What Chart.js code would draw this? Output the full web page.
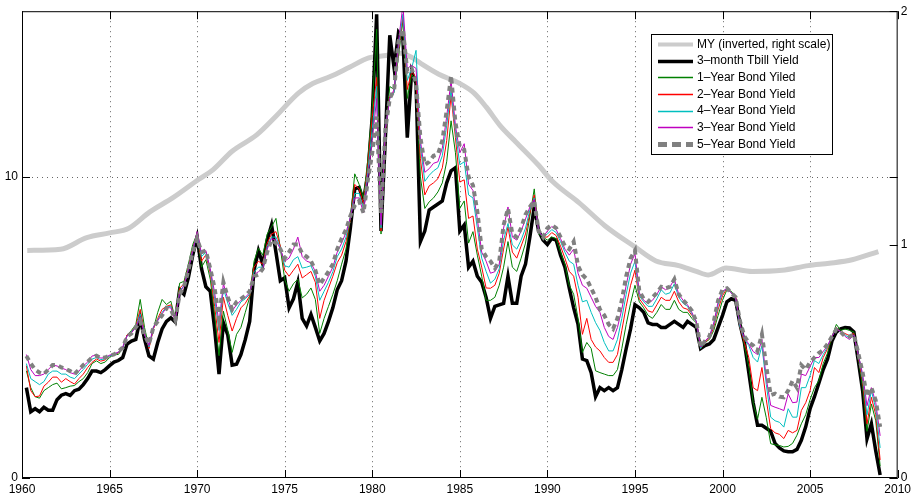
<!DOCTYPE html>
<html>
<head>
<meta charset="utf-8">
<script src="https://cdn.jsdelivr.net/npm/chart.js@4.4.1/dist/chart.umd.min.js"></script>
<style>
  html, body { margin: 0; padding: 0; background: #fff; }
  #wrap { width: 915px; height: 502px; }
</style>
</head>
<body>
<div id="wrap"><canvas id="chart" width="915" height="502"></canvas></div>
<script>
// quarterly observations, end of quarter, first one is March 1960
const firstQuarter = 1960.25;

const tbill3m = [
  3.0, 2.2, 2.3, 2.2,      2.35, 2.25, 2.25, 2.6,   2.75, 2.8, 2.74, 2.9,    2.95, 3.1, 3.3, 3.55,
  3.55, 3.5, 3.6, 3.73,    3.85, 3.9, 4.0, 4.45,    4.55, 4.6, 5.3, 4.6,     4.05, 3.95, 4.5, 4.95,
  5.2, 5.32, 5.18, 6.25,   6.1, 6.65, 7.4, 8.0,     6.95, 6.35, 6.2, 4.95,   3.45, 5.15, 4.75, 3.75,
  3.78, 4.1, 4.6, 5.2,     6.9, 7.55, 7.1, 7.9,     8.4, 7.5, 6.55, 6.65,    5.65, 5.95, 6.5, 5.3,
  5.05, 5.43, 5.0, 4.55,   4.8, 5.2, 5.65, 6.25,    6.55, 7.2, 8.3, 9.6,     9.65, 9.2, 10.1, 12.0,
  15.4, 8.2, 11.3, 14.7,   13.6, 14.8, 14.6, 11.3,  13.5, 13.1, 7.85, 8.2,   8.9, 9.0, 9.1, 9.2,
  9.8, 10.2, 10.3, 8.2,    8.4, 7.0, 7.2, 6.7,      6.5, 6.0, 5.3, 5.7,      5.75, 5.8, 6.7, 5.8,
  5.8, 6.7, 7.1, 8.0,      9.0, 8.2, 7.9, 7.75,     7.95, 7.9, 7.4, 7.0,     6.3, 5.65, 5.1, 3.95,
  3.9, 3.5, 2.7, 3.0,      2.9, 3.0, 2.9, 3.0,      3.6, 4.3, 4.95, 5.75,    5.65, 5.5, 5.15, 5.1,
  5.1, 5.0, 5.0, 5.1,      5.2, 5.1, 5.0, 5.2,      5.1, 5.0, 4.3, 4.4,      4.45, 4.6, 5.0, 5.4,
  5.85, 5.95, 5.9, 5.1,    4.5, 3.5, 2.5, 1.75,     1.75, 1.65, 1.55, 1.15,  1.0, 0.9, 0.87, 0.87,
  0.95, 1.25, 1.7, 2.3,    2.7, 3.15, 3.6, 3.95,    4.55, 4.85, 4.95, 5.0,   4.98, 4.85, 3.9, 2.9,
  1.3, 1.8, 0.9, 0.1
];

const bond1y = [
  3.56, 3.0, 2.7, 2.65,    2.9, 3.0, 3.1, 3.15,     2.96, 3.0, 3.05, 3.07,   3.2, 3.3, 3.5, 3.8,
  3.89, 3.8, 3.85, 4.0,    4.11, 4.1, 4.3, 4.75,    4.9, 5.1, 5.93, 4.99,    4.33, 4.95, 5.5, 5.93,
  5.76, 5.87, 5.27, 6.47,  6.53, 7.1, 7.75, 8.12,   7.0, 7.25, 6.6, 5.4,     4.06, 5.54, 4.9, 4.17,
  4.77, 5.0, 5.5, 6.0,     7.2, 7.63, 7.4, 8.1,     8.34, 8.62, 7.63, 6.6,   6.2, 6.45, 6.6, 5.98,
  6.1, 6.31, 5.93, 4.8,    5.3, 5.7, 6.1, 6.55,     7.1, 7.6, 8.6, 10.1,     9.75, 9.3, 10.6, 12.3,
  14.9, 8.1, 11.4, 13.0,   12.9, 14.0, 15.2, 12.6,  13.4, 13.2, 10.0, 8.95,  9.17, 9.3, 9.5, 9.8,
  10.5, 11.86, 10.8, 8.95, 9.2, 7.8, 8.18, 7.4,     6.7, 5.9, 5.9, 6.0,      6.4, 7.0, 7.85, 7.0,
  6.86, 7.3, 7.8, 8.7,     9.6, 8.1, 8.0, 7.9,      8.0, 7.95, 7.5, 7.1,     6.4, 6.1, 5.3, 4.17,
  4.5, 4.3, 3.56, 3.5,     3.45, 3.4, 3.4, 3.6,     4.3, 5.1, 5.8, 6.4,      5.85, 5.65, 5.4, 5.3,
  5.5, 5.76, 5.6, 5.6,     5.9, 5.6, 5.5, 5.5,      5.3, 5.15, 4.3, 4.5,     4.6, 4.9, 5.4, 5.9,
  6.25, 6.2, 6.0, 5.2,     4.4, 3.7, 2.5, 1.95,     2.68, 2.0, 1.14, 1.1,    1.08, 1.03, 1.05, 1.15,
  1.42, 1.8, 2.1, 2.6,     3.0, 3.23, 3.8, 4.15,    4.7, 5.1, 4.9, 4.95,     4.9, 4.85, 4.0, 3.0,
  1.55, 2.46, 1.9, 0.4
];

const bond2y = [
  3.73, 2.9, 2.7, 2.72,    3.05, 3.18, 3.35, 3.35,  3.18, 3.3, 3.2, 3.12,    3.3, 3.45, 3.67, 3.84,
  3.95, 3.88, 3.92, 4.05,  4.1, 4.15, 4.32, 4.75,   4.85, 5.05, 5.6, 4.8,    4.3, 4.95, 5.3, 5.6,
  5.7, 5.75, 5.25, 6.3,    6.45, 7.0, 7.6, 8.1,     7.2, 7.41, 6.8, 5.7,     4.5, 6.0, 5.4, 4.88,
  5.3, 5.65, 5.8, 6.05,    7.0, 7.2, 7.1, 7.8,      8.1, 8.18, 7.7, 6.9,     6.7, 6.9, 7.1, 6.64,
  6.75, 6.86, 6.5, 5.3,    5.9, 6.3, 6.7, 7.15,     7.4, 7.85, 8.6, 9.75,    9.6, 9.1, 10.4, 12.0,
  13.3, 8.2, 11.5, 12.7,   12.8, 14.2, 15.3, 12.9,  13.5, 13.3, 10.6, 9.4,   9.7, 9.8, 9.94, 10.3,
  11.2, 12.7, 11.3, 9.83,  9.9, 8.62, 8.7, 7.6,     7.0, 6.31, 6.3, 6.4,     6.8, 7.6, 8.34, 7.5,
  7.3, 7.7, 8.1, 8.8,      9.4, 8.2, 8.0, 8.0,      8.15, 8.05, 7.7, 7.3,    6.86, 6.7, 6.0, 4.77,
  5.3, 4.6, 4.35, 4.22,    4.0, 3.84, 3.84, 4.1,    4.9, 5.7, 6.4, 6.9,      5.95, 5.75, 5.55, 5.5,
  5.75, 6.0, 5.9, 5.9,     6.2, 5.85, 5.65, 5.6,    5.4, 5.2, 4.3, 4.5,      4.65, 5.0, 5.6, 6.05,
  6.3, 6.15, 6.0, 5.0,     4.5, 4.0, 3.0, 2.9,      3.67, 2.6, 1.64, 1.5,    1.45, 1.31, 1.58, 1.5,
  1.58, 2.24, 2.5, 2.9,    3.67, 3.5, 4.0, 4.3,     4.7, 5.0, 4.85, 4.8,     4.72, 4.8, 4.05, 3.2,
  1.8, 2.68, 2.1, 0.6
];

const bond4y = [
  3.8, 3.3, 3.2, 3.1,      3.2, 3.45, 3.55, 3.55,   3.45, 3.45, 3.35, 3.3,   3.45, 3.6, 3.78, 3.95,
  4.0, 3.93, 3.96, 4.05,   4.1, 4.17, 4.33, 4.72,   4.85, 5.0, 5.45, 4.78,   4.35, 5.0, 5.25, 5.5,
  5.68, 5.7, 5.25, 6.2,    6.4, 6.95, 7.55, 8.1,    7.35, 7.5, 6.9, 5.95,    4.9, 6.3, 5.8, 5.4,
  5.6, 5.85, 5.95, 6.1,    6.85, 7.0, 7.0, 7.7,     8.0, 8.0, 7.65, 7.05,    7.0, 7.25, 7.35, 6.97,
  7.0, 7.05, 6.7, 5.9,     6.2, 6.5, 6.85, 7.35,    7.6, 8.0, 8.65, 9.45,    9.45, 8.95, 10.2, 11.6,
  13.0, 8.3, 11.6, 12.6,   12.8, 14.3, 15.4, 13.2,  13.6, 14.2, 11.0, 9.85,  10.05, 10.2, 10.3, 10.7,
  11.7, 12.9, 11.5, 10.4,  10.5, 9.4, 9.3, 8.3,     7.3, 6.86, 6.47, 6.6,    6.95, 7.9, 8.45, 7.74,
  7.6, 7.9, 8.3, 8.9,      9.3, 8.2, 8.0, 8.1,      8.25, 8.15, 7.85, 7.5,   7.2, 7.1, 6.4, 5.85,
  5.9, 5.5, 5.16, 4.9,     4.5, 4.22, 4.22, 4.6,    5.3, 6.1, 6.8, 7.2,      6.05, 5.85, 5.7, 5.7,
  5.95, 6.25, 6.1, 6.15,   6.45, 6.0, 5.8, 5.7,     5.45, 5.2, 4.3, 4.55,    4.68, 5.1, 5.75, 6.15,
  6.3, 6.15, 5.95, 5.0,    4.6, 4.4, 4.0, 3.85,     4.39, 3.1, 2.02, 1.9,    1.85, 1.69, 2.3, 2.02,
  2.02, 3.0, 3.0, 3.4,     3.9, 3.8, 4.1, 4.35,     4.7, 4.97, 4.85, 4.75,   4.65, 4.75, 4.1, 3.35,
  2.1, 2.9, 2.3, 1.0
];

const bond3y = [
  4.1, 3.6, 3.4, 3.4,      3.45, 3.6, 3.75, 3.72,   3.65, 3.6, 3.5, 3.45,    3.55, 3.72, 3.85, 4.05,
  4.08, 3.98, 4.0, 4.08,   4.12, 4.18, 4.35, 4.72,  4.82, 5.0, 5.35, 4.75,   4.4, 5.0, 5.22, 5.45,
  5.66, 5.65, 5.22, 6.15,  6.38, 6.92, 7.55, 8.18,  7.45, 7.55, 6.95, 6.15,  5.15, 6.45, 5.95, 5.55,
  5.75, 5.9, 6.0, 6.15,    6.75, 6.85, 6.95, 7.6,   7.95, 7.9, 7.6, 7.2,     7.3, 7.6, 8.0, 7.35,
  7.2, 7.15, 6.85, 6.2,    6.4, 6.7, 7.0, 7.5,      7.8, 8.15, 8.65, 9.3,    9.3, 8.8, 10.0, 11.2,
  12.6, 8.4, 11.6, 12.6,   12.9, 14.5, 15.7, 13.6,  13.7, 13.6, 11.2, 10.15, 10.27, 10.45, 10.5, 10.95,
  12.0, 13.2, 11.7, 10.8,  11.1, 9.75, 9.55, 8.6,   7.5, 7.2, 6.8, 6.85,     7.1, 8.3, 9.0, 8.0,
  7.9, 8.2, 8.6, 9.0,      9.25, 8.2, 8.0, 8.2,     8.35, 8.25, 7.95, 7.6,   7.4, 7.6, 6.8, 6.4,
  6.3, 6.0, 5.7, 5.5,      5.0, 4.7, 4.6, 5.0,      5.6, 6.4, 7.1, 7.45,     6.15, 5.9, 5.8, 5.9,
  6.1, 6.35, 6.25, 6.35,   6.6, 6.1, 5.9, 5.75,     5.5, 5.2, 4.35, 4.55,    4.7, 5.15, 5.85, 6.2,
  6.3, 6.15, 5.98, 5.1,    4.65, 4.45, 4.2, 4.1,    4.6, 3.3, 2.41, 2.35,    2.3, 2.24, 2.79, 2.5,
  2.52, 3.45, 3.4, 3.7,    4.0, 4.0, 4.2, 4.4,      4.7, 4.95, 4.85, 4.7,    4.6, 4.75, 4.1, 3.45,
  2.4, 3.0, 2.5, 1.4
];

const bond5y = [
  4.05, 3.8, 3.6, 3.5,     3.45, 3.6, 3.75, 3.75,   3.67, 3.62, 3.55, 3.45,  3.6, 3.75, 3.86, 4.0,
  4.06, 3.98, 4.0, 4.06,   4.1, 4.2, 4.33, 4.7,     4.8, 5.0, 5.2, 4.75,     4.45, 5.0, 5.2, 5.4,
  5.65, 5.6, 5.25, 6.1,    6.35, 6.9, 7.5, 7.95,    7.5, 7.55, 6.95, 6.3,    5.3, 6.5, 6.0, 5.6,
  5.85, 5.95, 6.05, 6.2,   6.7, 6.75, 6.95, 7.5,    7.9, 7.8, 7.6, 7.3,      7.5, 7.75, 7.75, 7.45,
  7.35, 7.2, 6.9, 6.42,    6.64, 6.85, 7.1, 7.6,    7.95, 8.25, 8.7, 9.05,   9.2, 8.8, 9.9, 10.8,
  12.0, 8.8, 11.6, 12.6,   12.9, 14.5, 14.9, 13.5,  13.6, 13.1, 11.3, 10.4,  10.5, 10.7, 10.75, 11.2,
  12.2, 13.35, 11.8, 11.0, 10.9, 10.0, 9.72, 8.85,  7.6, 7.35, 7.2, 6.97,    7.2, 8.4, 8.95, 8.1,
  8.0, 8.3, 8.75, 9.0,     9.2, 8.2, 8.0, 8.3,      8.4, 8.3, 8.0, 7.7,      7.6, 7.85, 7.05, 6.75,
  6.6, 6.3, 6.0, 5.6,      5.4, 5.1, 4.95, 5.3,     5.9, 6.7, 7.3, 7.55,     6.2, 5.95, 5.85, 6.0,
  6.15, 6.35, 6.3, 6.35,   6.6, 6.1, 5.9, 5.75,     5.55, 5.2, 4.35, 4.55,   4.7, 5.2, 5.9, 6.26,
  6.3, 6.15, 6.0, 5.2,     4.7, 4.5, 4.4, 4.22,     4.77, 3.7, 2.75, 2.8,    2.7, 2.68, 2.9, 3.23,
  3.0, 3.75, 3.6, 3.85,    4.0, 4.15, 4.25, 4.45,   4.7, 4.93, 4.85, 4.7,    4.7, 4.77, 4.15, 3.5,
  2.7, 3.0, 2.57, 1.7
];

// MY, smooth series on the right axis
const myYears = [1960.3, 1962.2, 1963.7, 1965.0, 1966.1, 1967.3, 1968.6, 1970.1, 1970.9, 1972.0,
  1973.4, 1974.5, 1975.8, 1976.6, 1977.6, 1978.7, 1979.8, 1980.8, 1981.6, 1982.3, 1982.9, 1983.8,
  1985.0, 1985.8, 1986.5, 1987.3, 1988.2, 1989.5, 1990.3, 1991.8, 1993.3, 1995.0, 1996.2, 1997.5,
  1998.5, 1999.2, 2000.2, 2001.7, 2003.4, 2004.9, 2006.1, 2007.4, 2008.9];
const myValues = [0.975, 0.98, 1.03, 1.05, 1.07, 1.14, 1.20, 1.28, 1.32, 1.40,
  1.47, 1.55, 1.65, 1.69, 1.72, 1.76, 1.80, 1.81, 1.82, 1.80, 1.77, 1.73,
  1.69, 1.65, 1.59, 1.51, 1.44, 1.34, 1.27, 1.18, 1.08, 0.99, 0.93, 0.91,
  0.885, 0.87, 0.90, 0.885, 0.89, 0.91, 0.92, 0.935, 0.97];

const xTicks = [1960, 1965, 1970, 1975, 1980, 1985, 1990, 1995, 2000, 2005, 2010];
const leftTicks = [0, 10];
const rightTicks = [0, 1, 2];

const quarters = tbill3m.map((_, i) => firstQuarter + i * 0.25);
const pts = vals => vals.map((v, i) => ({ x: quarters[i], y: v }));

const FONT = "'Liberation Sans', Arial, Helvetica, sans-serif";

const frame = {
  id: 'frame',
  beforeDatasetsDraw(chart) {
    const { ctx, chartArea: a, scales: { x, y } } = chart;
    ctx.save();
    ctx.strokeStyle = '#666';
    ctx.lineWidth = 1;
    ctx.setLineDash([1, 4]);
    xTicks.slice(1, -1).forEach(v => {
      const px = Math.round(x.getPixelForValue(v)) + 0.5;
      ctx.beginPath(); ctx.moveTo(px, a.top); ctx.lineTo(px, a.bottom); ctx.stroke();
    });
    leftTicks.slice(1).forEach(v => {
      const py = Math.round(y.getPixelForValue(v)) + 0.5;
      ctx.beginPath(); ctx.moveTo(a.left, py); ctx.lineTo(a.right, py); ctx.stroke();
    });
    ctx.restore();
  },
  afterDatasetsDraw(chart) {
    const { ctx, chartArea: a, scales: { x, y, y1 } } = chart;
    const len = 8;
    ctx.save();
    ctx.strokeStyle = '#000';
    ctx.lineWidth = 1;
    ctx.strokeRect(a.left + 0.5, a.top + 0.5, a.width - 1, a.height - 1);
    ctx.beginPath();
    xTicks.forEach(v => {
      const px = Math.round(x.getPixelForValue(v)) + 0.5;
      ctx.moveTo(px, a.bottom); ctx.lineTo(px, a.bottom - len);
      ctx.moveTo(px, a.top); ctx.lineTo(px, a.top + len);
    });
    leftTicks.forEach(v => {
      const py = Math.round(y.getPixelForValue(v)) + 0.5;
      ctx.moveTo(a.left, py); ctx.lineTo(a.left + len, py);
      ctx.moveTo(a.right, py); ctx.lineTo(a.right - len, py);
    });
    rightTicks.forEach(v => {
      const py = Math.round(y1.getPixelForValue(v)) + 0.5;
      ctx.moveTo(a.right, py); ctx.lineTo(a.right - len, py);
    });
    ctx.stroke();
    ctx.restore();
  },
  afterDraw(chart) {
    // legend box, top right inside the axes
    const ctx = chart.ctx;
    const bx = 651, by = 34, bw = 181, bh = 120;
    ctx.save();
    ctx.fillStyle = '#fff';
    ctx.fillRect(bx, by, bw, bh);
    ctx.strokeStyle = '#000';
    ctx.lineWidth = 1;
    ctx.strokeRect(bx + 0.5, by + 0.5, bw, bh);
    ctx.font = '12px ' + FONT;
    ctx.textBaseline = 'middle';
    chart.data.datasets.forEach((ds, i) => {
      const cy = 44 + i * 16.67;
      ctx.save();
      ctx.strokeStyle = ds.borderColor;
      ctx.lineWidth = ds.legendWidth;
      ctx.setLineDash(ds.legendDash || []);
      ctx.beginPath();
      ctx.moveTo(658, Math.round(cy) + 0.5);
      ctx.lineTo(693, Math.round(cy) + 0.5);
      ctx.stroke();
      ctx.restore();
      ctx.fillStyle = '#000';
      ctx.fillText(ds.label, 697, cy + 0.5);
    });
    ctx.restore();
  }
};

new Chart(document.getElementById('chart'), {
  type: 'line',
  data: {
    datasets: [
      { label: 'MY (inverted, right scale)', data: myYears.map((t, i) => ({ x: t, y: myValues[i] })),
        yAxisID: 'y1', borderColor: 'rgb(204,204,204)', borderWidth: 5, legendWidth: 4,
        cubicInterpolationMode: 'monotone', order: 6 },
      { label: '3–month Tbill Yield', data: pts(tbill3m), borderColor: '#000', borderWidth: 3.5, legendWidth: 3.5, order: 5 },
      { label: '1–Year Bond Yiled', data: pts(bond1y), borderColor: 'rgb(0,128,0)', borderWidth: 1, legendWidth: 1.5, order: 4 },
      { label: '2–Year Bond Yield', data: pts(bond2y), borderColor: 'rgb(255,0,0)', borderWidth: 1, legendWidth: 1.5, order: 3 },
      { label: '4–Year Bond Yield', data: pts(bond4y), borderColor: 'rgb(0,191,191)', borderWidth: 1, legendWidth: 1.5, order: 2 },
      { label: '3–Year Bond Yield', data: pts(bond3y), borderColor: 'rgb(191,0,191)', borderWidth: 1, legendWidth: 1.5, order: 1 },
      { label: '5–Year Bond Yield', data: pts(bond5y), borderColor: 'rgb(128,128,128)', borderWidth: 4,
        borderDash: [5, 4], legendWidth: 5, legendDash: [9, 5], order: 0 }
    ]
  },
  options: {
    responsive: false,
    animation: false,
    devicePixelRatio: 1,
    events: [],
    layout: { padding: { top: 8, left: 0, right: 0, bottom: 0 } },
    elements: { point: { radius: 0 }, line: { tension: 0, fill: false } },
    datasets: { line: { clip: 0 } },
    plugins: { legend: { display: false }, tooltip: { enabled: false } },
    scales: {
      x: {
        type: 'linear', min: 1960, max: 2010, position: 'bottom',
        afterBuildTicks: s => { s.ticks = xTicks.map(v => ({ value: v })); },
        afterFit: s => { s.height = 24; },
        grid: { display: false, drawTicks: false },
        border: { display: false },
        ticks: { color: '#000', font: { family: FONT, size: 12 }, padding: 4, maxRotation: 0, autoSkip: false,
          callback: v => String(v) }
      },
      y: {
        type: 'linear', min: 0, max: 15.5, position: 'left',
        afterBuildTicks: s => { s.ticks = leftTicks.map(v => ({ value: v })); },
        afterFit: s => { s.width = 22; },
        grid: { display: false, drawTicks: false },
        border: { display: false },
        ticks: { color: '#000', font: { family: FONT, size: 12 }, padding: 4 }
      },
      y1: {
        type: 'linear', min: 0, max: 2, position: 'right',
        afterBuildTicks: s => { s.ticks = rightTicks.map(v => ({ value: v })); },
        afterFit: s => { s.width = 16; },
        grid: { display: false, drawTicks: false },
        border: { display: false },
        ticks: { color: '#000', font: { family: FONT, size: 12 }, padding: 3 }
      }
    }
  },
  plugins: [frame]
});
</script>
</body>
</html>
